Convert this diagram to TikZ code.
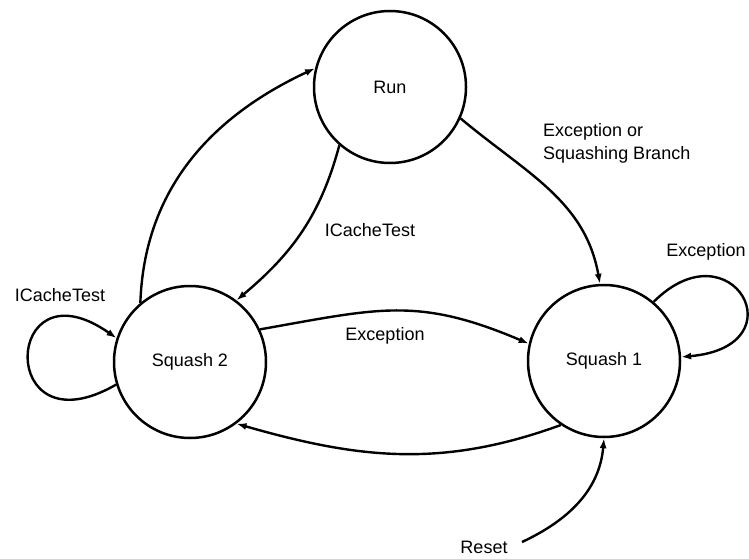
\documentclass[tikz,border=0pt]{standalone}
\usepackage{fontspec}
\setmainfont{Liberation Sans}
\usetikzlibrary{arrows.meta}
\begin{document}
\begin{tikzpicture}[x=1pt,y=1pt,
  state/.style={circle,draw,line width=2.5pt,minimum size=152pt,inner sep=0pt,font=\fontsize{18}{22}\selectfont},
  edge/.style={line width=2.4pt,-{Latex[length=10pt,width=7pt]}},
  lbl/.style={font=\fontsize{18}{23}\selectfont,inner sep=0pt}]
\useasboundingbox (0,0) rectangle (749,558);
\node[state] (run) at (390,471) {Run};
\node[state] (sqtwo) at (190,196) {Squash 2};
\node[state] (sqone) at (604,197) {Squash 1};
\draw[edge] (sqtwo.130) to[out=88,in=205] (run.166);
\draw[edge] (run.229) to[out=255,in=40] (sqtwo.53);
\draw[edge] (run.-24) to[out=-40,in=100] (sqone.93);
\draw[edge] (sqtwo.25) to[out=10,in=157,looseness=1.15] (sqone.167);
\draw[edge] (sqone.236) to[out=200,in=-16] (sqtwo.307);
\draw[edge] (sqtwo.197) .. controls +(210:139) and +(145:139) .. (sqtwo.162);
\draw[edge] (sqone.50) .. controls +(45:110) and +(5:120) .. (sqone.3);
\coordinate (rst) at (522,16);
\draw[edge] (rst) to[out=25,in=265] (sqone.270);
\node[lbl] (l1) at (370,328) {ICacheTest};
\node[lbl] (l2) at (60,263) {ICacheTest};
\node[lbl] (l3) at (385,222) {Exception};
\node[lbl,align=left,anchor=west] (l4) at (543,414.5) {Exception or\\Squashing Branch};
\node[lbl] (l5) at (706,306) {Exception};
\node[lbl] (l6) at (484,11) {Reset};
\end{tikzpicture}
\end{document}
